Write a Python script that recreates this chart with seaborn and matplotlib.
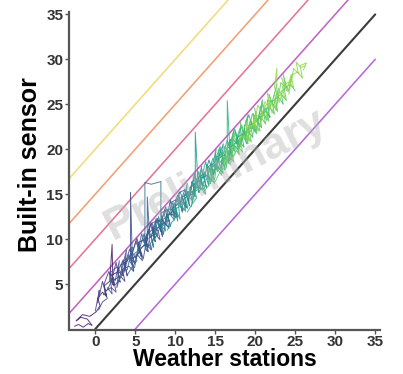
import numpy as np
import pandas as pd
import matplotlib
matplotlib.use("Agg")
import matplotlib.pyplot as plt
import seaborn as sns

# ---- data ----
t1_x = [-2.6, -2.1, -1.5, -0.9, -0.4, -1.0, -1.8, -2.4, -1.6, -0.7, 0.1, 0.6, 0.3, 0.9, 1.4, 1.1, 1.8, 2.1, 2.2, 2.4, 2.1, 2.9, 3.5, 3.2, 4.0]
t1_y = [0.3, 0.5, 0.2, 0.6, 0.4, 1.1, 1.3, 0.9, 1.6, 1.4, 1.9, 2.6, 3.4, 4.1, 3.6, 4.8, 5.3, 9.4, 5.0, 4.9, 6.0, 6.4, 5.9, 7.1, 7.6]
t2_x = [0.4, 0.9, 1.5, 1.2, 2.0, 2.6, 2.3, 3.1, 3.7, 3.4, 4.2, 4.8, 4.5, 5.3, 5.9, 5.6, 6.4, 7.0, 6.7, 7.5, 8.1, 7.8, 8.6, 9.2]
t2_y = [2.1, 3.0, 3.4, 4.2, 4.6, 4.1, 5.4, 5.9, 5.3, 6.6, 7.0, 6.4, 7.8, 8.2, 7.6, 9.0, 9.4, 8.8, 10.1, 10.6, 9.9, 11.2, 11.8, 11.3]
ta_x = [0.0, 0.5, 0.3, 0.9, 1.4, 1.1, 1.7, 2.3, 2.0, 2.6, 3.1, 2.8, 3.5, 4.0, 3.7, 4.3, 4.9, 4.6, 5.2, 5.8, 5.5, 6.1, 6.6, 6.3, 7.0, 7.5, 7.2, 7.9]
ta_y = [2.0, 4.3, 2.9, 5.3, 3.6, 5.0, 6.4, 4.8, 5.3, 7.4, 5.2, 6.4, 7.7, 5.9, 7.2, 8.9, 7.3, 8.4, 10.1, 8.1, 8.9, 10.6, 8.6, 10.0, 11.8, 10.1, 11.3, 10.9]
t3_x = [1.0, 1.6, 2.2, 1.9, 2.7, 3.3, 3.9, 4.4, 4.4, 4.6, 5.0, 5.6, 5.3, 6.1, 6.7, 6.4, 7.2, 7.8, 7.5, 8.3, 8.9, 8.6, 9.4, 10.0]
t3_y = [3.8, 4.5, 5.7, 6.3, 6.9, 6.2, 7.5, 8.1, 15.2, 8.6, 7.9, 8.7, 9.6, 9.9, 9.2, 10.5, 11.1, 10.4, 11.8, 12.2, 11.6, 13.0, 13.4, 12.9]
tb_x = [1.5, 2.1, 1.8, 2.5, 3.0, 2.7, 3.3, 3.9, 3.6, 4.2, 4.8, 4.5, 5.1, 5.7, 5.4, 6.0, 6.6, 6.3, 6.9, 7.5, 7.2, 7.8, 8.4, 8.1, 8.7, 9.3, 9.0, 9.8]
tb_y = [4.6, 3.9, 6.2, 5.4, 7.6, 4.6, 6.6, 8.8, 6.3, 8.3, 6.5, 8.1, 9.8, 8.1, 9.3, 7.8, 10.9, 9.3, 11.7, 9.7, 10.9, 12.3, 10.3, 11.5, 13.3, 11.8, 12.8, 12.7]
t4_x = [2.5, 3.1, 3.7, 3.4, 4.2, 4.9, 5.5, 5.2, 6.0, 6.5, 6.5, 6.8, 7.4, 7.1, 7.9, 8.5, 8.2, 9.0, 9.6, 9.3, 10.1, 10.7, 10.4, 11.2, 11.8]
t4_y = [4.9, 5.6, 6.8, 7.5, 8.0, 7.4, 8.7, 9.5, 9.9, 10.4, 14.7, 10.1, 11.0, 11.8, 12.1, 11.5, 12.9, 13.3, 12.6, 14.0, 14.4, 13.8, 15.1, 15.5, 14.9]
t5_x = [4.0, 4.6, 5.2, 4.9, 5.7, 6.2, 6.2, 7.0, 8.2, 8.2, 8.6, 9.2, 8.9, 9.7, 10.3, 10.0, 10.8, 11.4, 11.1, 11.9, 12.5, 12.2, 13.0, 13.6]
t5_y = [6.0, 6.9, 7.6, 8.4, 8.9, 9.5, 16.3, 16.1, 16.4, 11.3, 11.9, 11.2, 12.6, 13.1, 12.4, 13.8, 14.2, 13.5, 14.9, 15.4, 14.7, 16.1, 16.5, 15.9]
tc_x = [4.0, 4.6, 4.3, 4.9, 5.5, 5.2, 5.8, 6.4, 6.1, 6.7, 7.3, 7.0, 7.6, 8.2, 7.9, 8.5, 9.1, 8.8, 9.4, 10.0, 9.7, 10.3, 10.9, 10.6, 11.2, 11.8, 11.5, 12.1, 12.7]
tc_y = [6.6, 9.1, 7.5, 6.8, 9.6, 8.2, 10.6, 8.7, 9.7, 11.1, 9.1, 10.3, 12.3, 10.8, 11.8, 10.5, 13.3, 11.9, 14.3, 12.4, 13.4, 14.9, 13.0, 14.0, 15.5, 13.7, 15.3, 14.9, 16.7]
t6_x = [6.5, 7.1, 7.7, 7.4, 8.2, 8.8, 8.5, 9.3, 9.9, 9.6, 10.4, 11.0, 10.7, 11.5, 12.1, 11.8, 12.6, 13.2, 12.9, 13.7, 14.3, 14.0, 14.8, 15.4, 15.1, 15.9]
t6_y = [8.9, 9.8, 10.4, 11.0, 11.6, 10.9, 12.2, 12.8, 12.1, 13.4, 13.9, 13.2, 14.6, 15.0, 14.3, 15.7, 16.2, 15.5, 16.9, 17.3, 16.6, 18.0, 18.4, 17.8, 19.1, 19.5]
td_x = [7.0, 7.6, 7.3, 7.9, 8.5, 8.2, 8.8, 9.4, 9.1, 9.7, 10.3, 10.0, 10.6, 11.2, 10.9, 11.5, 12.1, 11.8, 12.4, 13.0, 12.7, 13.3, 13.9, 13.6, 14.2, 14.8, 14.5, 15.1, 15.7]
td_y = [8.8, 11.5, 10.0, 12.5, 10.7, 11.7, 13.6, 11.4, 12.4, 14.1, 12.0, 13.8, 15.3, 13.7, 14.5, 13.4, 16.4, 14.8, 17.3, 15.2, 16.2, 17.8, 15.7, 16.8, 18.8, 17.2, 18.4, 18.0, 19.9]
t7_x = [9.0, 9.6, 10.2, 9.9, 10.7, 11.3, 11.0, 11.8, 12.5, 12.5, 12.9, 13.5, 13.2, 14.0, 14.6, 14.3, 15.1, 15.7, 15.4, 16.2, 16.8, 16.5, 17.3, 17.9, 17.6, 18.4, 19.0]
t7_y = [11.0, 11.9, 12.6, 13.3, 13.7, 13.1, 14.4, 15.0, 15.6, 21.9, 15.2, 15.9, 16.8, 17.1, 16.4, 17.8, 18.3, 17.6, 19.0, 19.4, 18.7, 20.1, 20.5, 19.9, 21.2, 21.7, 21.0]
te_x = [10.0, 10.6, 10.3, 10.9, 11.5, 11.2, 11.8, 12.4, 12.1, 12.7, 13.3, 13.0, 13.6, 14.2, 13.9, 14.5, 15.1, 14.8, 15.4, 16.0, 15.7, 16.3, 16.9, 16.6, 17.2, 17.8, 17.5, 18.1, 18.7]
te_y = [13.4, 12.2, 14.5, 13.7, 16.2, 13.3, 15.4, 16.9, 14.0, 15.9, 18.1, 15.6, 17.5, 15.9, 18.3, 17.6, 20.0, 17.1, 19.1, 20.6, 17.7, 19.8, 21.1, 18.4, 21.1, 20.5, 22.0, 20.3, 22.3]
t8_x = [11.5, 12.1, 12.7, 12.4, 13.2, 13.8, 13.5, 14.3, 14.9, 14.6, 15.4, 16.0, 15.7, 16.5, 16.5, 16.9, 17.5, 17.2, 18.0, 18.6, 18.3, 19.1, 19.7, 19.4, 20.2, 20.8, 20.5, 21.3, 21.9]
t8_y = [13.0, 13.9, 14.6, 15.3, 15.7, 15.0, 16.4, 16.9, 16.2, 17.6, 18.0, 17.3, 18.7, 19.2, 25.4, 18.8, 19.6, 20.5, 20.9, 20.2, 21.6, 22.0, 21.3, 22.7, 23.1, 22.4, 23.8, 24.2, 23.6]
tf_x = [12.0, 12.6, 12.3, 12.9, 13.5, 13.2, 13.8, 14.4, 14.1, 14.7, 15.3, 15.0, 15.6, 16.2, 15.9, 16.5, 17.1, 16.8, 17.4, 18.0, 17.7, 18.3, 18.9, 18.6, 19.2, 19.8, 19.5, 20.1, 20.7]
tf_y = [13.6, 16.3, 14.8, 17.5, 15.5, 16.6, 18.6, 16.2, 17.2, 19.0, 17.5, 18.8, 20.3, 17.7, 19.2, 21.0, 19.2, 20.4, 22.3, 20.4, 20.9, 22.7, 20.6, 22.5, 23.8, 22.1, 23.0, 22.0, 24.8]
t9_x = [13.5, 14.1, 14.7, 14.4, 15.2, 15.8, 15.5, 16.3, 16.9, 16.6, 17.4, 18.0, 17.7, 18.5, 19.1, 18.8, 19.6, 20.2, 19.9, 20.7, 21.3, 21.0, 21.8, 22.4, 22.1, 22.9, 23.5, 23.2, 24.0]
t9_y = [15.2, 15.9, 16.8, 17.4, 17.9, 17.1, 18.5, 19.0, 18.3, 19.7, 20.2, 19.4, 20.9, 21.3, 20.6, 22.0, 22.4, 21.7, 23.1, 23.6, 22.8, 24.2, 24.7, 23.9, 25.3, 25.8, 25.0, 26.4, 26.9]
tg_x = [14.0, 14.6, 14.3, 14.9, 15.5, 15.2, 15.8, 16.4, 16.1, 16.7, 17.3, 17.0, 17.6, 18.2, 17.9, 18.5, 19.1, 18.8, 19.4, 20.0, 19.7, 20.3, 20.9, 20.6, 21.2, 21.8, 21.5, 22.1, 22.7]
tg_y = [18.1, 16.9, 17.9, 16.6, 20.0, 18.1, 19.6, 18.0, 20.3, 19.7, 22.0, 19.1, 21.1, 22.6, 19.7, 21.8, 23.9, 21.4, 23.3, 21.9, 24.0, 23.1, 25.5, 22.8, 24.6, 23.5, 25.5, 25.2, 27.2]
t10_x = [15.0, 15.6, 16.2, 15.9, 16.7, 17.3, 17.0, 17.8, 18.4, 18.1, 18.9, 19.5, 19.2, 20.0, 20.6, 20.3, 21.1, 21.7, 21.4, 22.2, 22.8, 22.5, 23.3, 23.9, 23.6, 24.4, 25.0]
t10_y = [16.4, 17.5, 18.0, 18.9, 19.2, 18.6, 20.0, 20.4, 19.7, 21.2, 21.6, 20.8, 22.3, 22.7, 22.0, 23.4, 23.8, 23.1, 24.6, 25.0, 24.2, 25.7, 26.1, 25.4, 26.8, 27.2, 26.5]
th_x = [16.0, 16.6, 16.3, 16.9, 17.5, 17.2, 17.8, 18.4, 18.1, 18.7, 19.3, 19.0, 19.6, 20.2, 19.9, 20.5, 21.1, 20.8, 21.4, 22.0, 21.7, 22.3, 22.9, 22.6, 23.2, 23.8, 23.5, 24.1, 24.7]
th_y = [18.2, 20.6, 17.8, 20.2, 22.1, 19.9, 19.7, 22.2, 23.0, 21.1, 22.8, 20.6, 23.9, 23.1, 24.6, 22.5, 24.7, 25.3, 23.2, 25.2, 26.1, 24.8, 26.8, 24.3, 27.4, 26.8, 28.3, 26.4, 28.4]
t11_x = [17.0, 17.6, 18.2, 17.9, 18.7, 19.3, 19.0, 19.8, 20.4, 20.1, 20.9, 21.5, 21.2, 22.0, 22.6, 22.3, 23.1, 23.7, 23.4, 24.2, 24.8, 24.5, 25.3, 25.9, 25.6, 26.4, 26.0]
t11_y = [18.6, 19.8, 20.3, 21.1, 21.5, 20.9, 22.4, 22.8, 22.0, 23.6, 24.0, 23.3, 24.8, 25.2, 24.4, 25.9, 26.3, 25.6, 27.0, 27.5, 26.8, 28.2, 28.6, 27.9, 29.3, 29.6, 28.8]
ti_x = [18.5, 19.1, 18.8, 19.4, 20.0, 19.7, 20.3, 20.9, 20.6, 21.2, 21.8, 21.5, 22.1, 22.7, 22.7, 22.4, 23.0, 23.6, 23.3, 23.9, 24.5, 24.2, 24.8, 25.4, 25.1, 25.7, 26.3]
ti_y = [21.5, 20.8, 23.2, 21.9, 23.9, 21.5, 24.9, 24.1, 22.6, 25.3, 24.5, 26.3, 24.0, 26.3, 29.0, 26.9, 25.2, 26.9, 28.0, 26.5, 28.3, 26.1, 29.0, 28.4, 29.7, 29.1, 29.3]

traces_x = [t1_x, t2_x, ta_x, t3_x, tb_x, t4_x, t5_x, tc_x, t6_x, td_x, t7_x, te_x,
            t8_x, tf_x, t9_x, tg_x, t10_x, th_x, t11_x, ti_x]
traces_y = [t1_y, t2_y, ta_y, t3_y, tb_y, t4_y, t5_y, tc_y, t6_y, td_y, t7_y, te_y,
            t8_y, tf_y, t9_y, tg_y, t10_y, th_y, t11_y, ti_y]

ref_offsets = [-5, 0, 5, 10, 15, 20]
ref_colors = ["#a84fd8", "#262626", "#b848b4", "#df5f80", "#f28d5c", "#f2d462"]

x_ticks = [0, 5, 10, 15, 20, 25, 30, 35]
y_ticks = [5, 10, 15, 20, 25, 30, 35]

# ---- build long table ----
rows = []
for i, (xs, ys) in enumerate(zip(traces_x, traces_y)):
    for k, (xv, yv) in enumerate(zip(xs, ys)):
        rows.append({"trace": i, "order": k, "x": xv, "y": yv})
df = pd.DataFrame(rows)
df["level"] = df.groupby("trace")["x"].transform("mean")

sns.set_theme(style="ticks")
plt.rcParams['font.family'] = ['Liberation Sans', 'DejaVu Sans']

fig = plt.figure(figsize=(4.03, 3.74), dpi=100)
ax = fig.add_axes([0.171, 0.118, 0.772, 0.882])

xlim = (-3.3, 35.6)
ylim = (-0.1, 36.6)

# reference lines
for off, col in zip(ref_offsets, ref_colors):
    x0 = max(xlim[0], -off)
    x1 = min(35.0, ylim[1] - off)
    ldf = pd.DataFrame({"x": [x0, x1], "y": [x0 + off, x1 + off]})
    sns.lineplot(data=ldf, x="x", y="y", ax=ax, color=col,
                 lw=1.5 if off == 0 else 1.15, alpha=0.9 if off == 0 else 0.85)

sns.lineplot(data=df, x="x", y="y", hue="level", units="trace", estimator=None,
             sort=False, palette="viridis", hue_norm=(-1.0, 27.0),
             lw=0.7, alpha=0.85, legend=False, ax=ax)

ax.text(0.47, 0.47, "Preliminary", transform=ax.transAxes, rotation=27,
        fontsize=32, color="#b0b0b0", alpha=0.4, ha="center", va="center",
        fontweight="bold", zorder=10)

ax.set_xlim(*xlim)
ax.set_ylim(*ylim)
ax.set_xticks(x_ticks)
ax.set_yticks(y_ticks)
ax.set_xticklabels([str(t) for t in x_ticks])
ax.set_yticklabels([str(t) for t in y_ticks])
for lab in ax.get_xticklabels() + ax.get_yticklabels():
    lab.set_fontweight("bold")
ax.tick_params(axis="both", labelsize=11, colors="#555555", labelcolor="#333333",
               length=3, width=1, pad=1)
ax.set_xlabel("Weather stations", fontsize=16.5, fontweight="bold", color="black", labelpad=-1)
ax.set_ylabel("Built-in sensor", fontsize=18, fontweight="bold", color="black", labelpad=3)
sns.despine(ax=ax)
for s in ["left", "bottom"]:
    ax.spines[s].set_color("#555555")
    ax.spines[s].set_linewidth(1.6)
ax.spines["left"].set_bounds(0, 35.3)

fig.savefig("out.png", dpi=100)
